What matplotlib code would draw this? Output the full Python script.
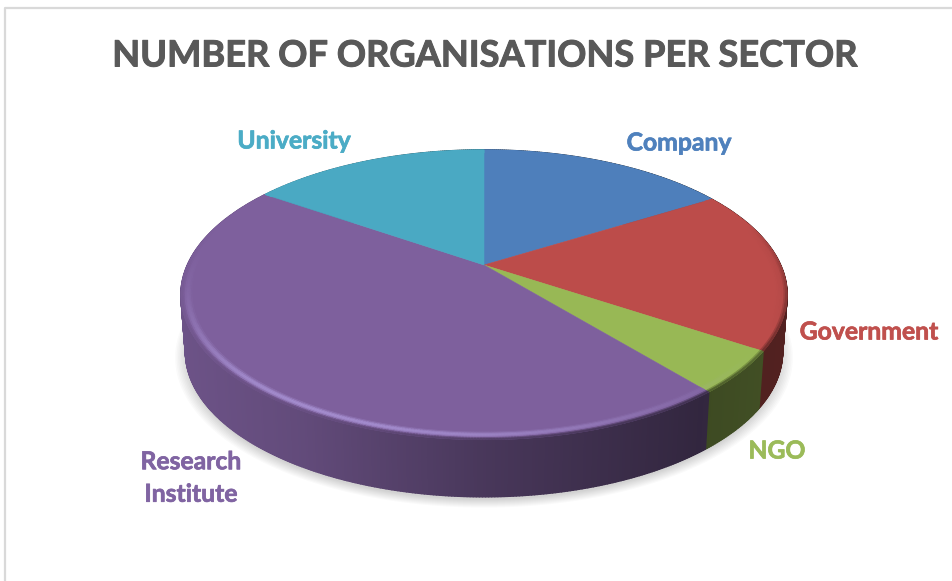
import numpy as np
import matplotlib
matplotlib.use('Agg')
import matplotlib.pyplot as plt
import matplotlib.patheffects as pe
from matplotlib.collections import PolyCollection
from matplotlib.colors import to_rgb

title = 'NUMBER OF ORGANISATIONS PER SECTOR'
sectors = ['Company', 'Government', 'NGO', 'Research\nInstitute', 'University']
shares = [16.2, 18.1, 4.7, 45.6, 15.4]
face_colors = ['#4E7FBB', '#BC4C4A', '#98B855', '#7E609D', '#4AA9C3']
label_colors = ['#4F81BD', '#C0504D', '#9BBB59', '#8064A2', '#4BACC6']

plt.rcParams['font.family'] = ['Lato', 'DejaVu Sans']

# perspective of the disc in pixels
cx, cy = 484, 265
a, b, k = 138.7, 296.5, 0.206
depth = 57

light_x = [181, 300, 480, 700, 790]
light_f = [0.86, 0.78, 0.58, 0.40, 0.44]


def project(theta, r=1.0):
    # theta clockwise from top, in radians
    u = r * np.sin(theta)
    v = r * np.cos(theta)
    w = 1 + k * v
    return cx + b * u / w, cy - a * v / w


def project_low(theta, r=1.0):
    x, y = project(theta, r)
    return cx + (x - cx) * 0.985, y + depth


def mix(c1, c2, t):
    return tuple((1 - t) * np.array(c1) + t * np.array(c2))


fig = plt.figure(figsize=(9.52, 5.81), dpi=100)
ax = fig.add_axes([0, 0, 1, 1])
ax.set_xlim(0, 952)
ax.set_ylim(581, 0)
ax.axis('off')

# chart frame
ax.plot([4.5, 4.5, 952], [581, 7.5, 7.5], color='#D9D9D9', lw=1.6)

ax.text(484, 56, title, ha='center', va='center', fontsize=26.1,
        fontweight='bold', color='#595959',
        path_effects=[pe.withStroke(linewidth=0.7, foreground='#595959')])

edges = np.radians(np.cumsum([0] + shares) / sum(shares) * 360)

# soft shadow under the disc
ring = np.linspace(0, 2 * np.pi, 300)
lx, ly = project_low(ring)
for i in range(9):
    s = 1.035 - i * 0.005
    ax.fill(cx + (lx - cx) * s, cy + 33 + (ly - cy - 33) * s + 4, color='#000000',
            alpha=0.018, lw=0, zorder=1)

# side wall, back to front
for j in range(len(shares)):
    base = to_rgb(face_colors[j])
    th = np.linspace(edges[j], edges[j + 1], max(int((edges[j + 1] - edges[j]) * 120), 3))
    polys, cols = [], []
    for t0, t1 in zip(th[:-1], th[1:]):
        x0, y0 = project(t0)
        x1, y1 = project(t1)
        x2, y2 = project_low(t1)
        x3, y3 = project_low(t0)
        polys.append([(x0, y0), (x1, y1), (x2, y2), (x3, y3)])
        f = np.interp((x0 + x1) / 2, light_x, light_f)
        cols.append(tuple(np.array(base) * f))
    ax.add_collection(PolyCollection(polys, facecolors=cols, edgecolors=cols, linewidths=1.2, zorder=2))

# top face
for j in range(len(shares)):
    th = np.linspace(edges[j], edges[j + 1], 120)
    x, y = project(th)
    ax.fill(np.r_[cx, x], np.r_[cy, y], color=face_colors[j], lw=0.4, zorder=3)

# bevel along the rim
bands = np.linspace(0.965, 1.0, 8)
for j in range(len(shares)):
    base = to_rgb(face_colors[j])
    th = np.linspace(edges[j], edges[j + 1], max(int((edges[j + 1] - edges[j]) * 120), 3))
    polys, cols = [], []
    for t0, t1 in zip(th[:-1], th[1:]):
        tm = (t0 + t1) / 2
        front = np.clip(0.3 - np.cos(tm), 0, 1)
        s = np.cos(tm - np.radians(207))
        s = s * s * front if s > 0 else s * front
        xm, _ = project(tm)
        side = np.array(base) * np.interp(xm, light_x, light_f)
        for n in range(len(bands) - 1):
            p = (n + 0.5) / (len(bands) - 1)
            x0, y0 = project(t0, bands[n])
            x1, y1 = project(t1, bands[n])
            x2, y2 = project(t1, bands[n + 1])
            x3, y3 = project(t0, bands[n + 1])
            polys.append([(x0, y0), (x1, y1), (x2, y2), (x3, y3)])
            if s > 0:
                c = mix(base, mix(base, (0.75, 0.68, 0.95), 0.6), s * np.sin(np.pi * min(p * 1.3, 1)))
            else:
                c = mix(base, tuple(np.array(base) * 0.6), -s * p)
            c = mix(c, side, front * max(0, p - 0.65) / 0.35)
            cols.append(c)
    ax.add_collection(PolyCollection(polys, facecolors=cols, edgecolors=cols, linewidths=0.6, zorder=4))

# labels
label_x = [679, 869, 777, 191, 294]
label_y = [143, 332, 451, 478, 141]
for name, c, lxp, lyp in zip(sectors, label_colors, label_x, label_y):
    ax.text(lxp, lyp, name, ha='center', va='center', fontsize=17.8, fontweight='bold',
            color=c, linespacing=1.5,
            path_effects=[pe.withStroke(linewidth=0.5, foreground=c)])

fig.savefig('out.png', dpi=100)
